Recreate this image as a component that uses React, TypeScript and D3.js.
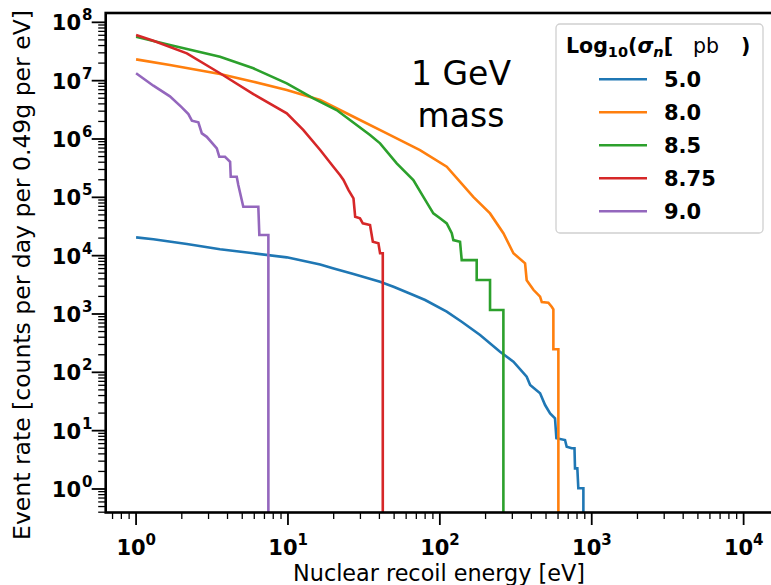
import React from "react";
import * as d3 from "d3";

type Pt = [number, number];

const seriesLabels = ["5.0", "8.0", "8.5", "8.75", "9.0"];
const seriesColors = ["#1f77b4", "#ff7f0e", "#2ca02c", "#d62728", "#9467bd"];

const sigma50: Pt[] = [
  [1.0, 20600], [1.3, 19060], [2.16, 15850], [3.57, 12850], [5.92, 10970], [9.82, 9360],
  [16.3, 7050], [20, 6020], [27, 4845], [40.4, 3573], [50, 2900], [66.9, 2115], [80, 1737],
  [111, 1095], [140, 728], [184, 437], [249, 226],
  [305, 152], [373, 84], [393, 60.6], [457, 43.7], [493, 27.5], [532, 19.8], [573, 16.3],
  [585, 7.4], [667, 6.9], [684, 5.3], [738, 5.0], [770, 5.0], [776, 2.26], [804, 2.26],
  [816, 1.03], [881, 1.03], [881, 0.01],
];
const sigma80: Pt[] = [
  [1.0, 2.32e7], [1.67, 1.85e7], [3.57, 1.3e7], [5.92, 9.58e6], [9.82, 6.9e6], [16.3, 4.65e6],
  [27, 2.41e6], [44.7, 1.25e6], [74, 6.47e5], [111, 3.35e5], [166, 1.02e5], [214, 5.3e4],
  [262, 2.42e4], [305, 1.1e4], [364, 7.4e3], [373, 3.8e3], [413, 2.6e3], [457, 1.98e3],
  [469, 1.6e3], [518, 1.56e3], [545, 1.33e3], [559, 1.2e3], [559, 248], [603, 248], [603, 0.01],
];
const sigma85: Pt[] = [
  [1.0, 5.66e7], [1.67, 4.08e7], [3.57, 2.57e7], [5.92, 1.63e7], [9.82, 9.0e6], [14.7, 4.98e6],
  [20.9, 3.14e6], [34.7, 1.17e6], [40.4, 8.43e5], [52, 3.83e5], [66.9, 1.98e5], [77.9, 1.02e5],
  [90.6, 5.32e4], [100.3, 4.37e4], [111, 3.58e4], [119.8, 2.42e4], [122.7, 1.85e4],
  [135.8, 1.73e4], [139.3, 8.4e3], [174.8, 8.4e3], [174.8, 3.82e3], [214, 3.82e3],
  [214, 1.17e3], [262, 1.17e3], [262, 0.01],
];
const sigma875: Pt[] = [
  [1.0, 6.05e7], [1.3, 4.84e7], [2.16, 2.94e7], [3.57, 1.34e7], [5.92, 5.9e6], [9.82, 2.75e6],
  [12.6, 1.43e6], [16.3, 6.47e5], [19.9, 3.35e5], [22, 2.41e5], [23.2, 1.98e5], [25, 1.34e5],
  [27, 9.6e4], [27.7, 4.65e4], [29.8, 4.37e4], [31.1, 3.58e4], [34.7, 3.35e4], [36.2, 1.73e4],
  [39.4, 1.63e4], [40.4, 1.1e4], [42.1, 1.1e4], [42.1, 0.01],
];
const sigma90: Pt[] = [
  [1.0, 1.34e7], [1.3, 8.2e6], [1.67, 5.39e6], [2.0, 3.49e6], [2.21, 2.68e6], [2.33, 2.06e6],
  [2.57, 1.93e6], [2.71, 1.25e6], [2.92, 1.09e6], [3.4, 6.92e5], [3.53, 4.97e5], [3.85, 4.97e5],
  [4.16, 4.07e5], [4.2, 2.25e5], [4.6, 2.25e5], [4.71, 1.63e5], [5.08, 6.9e4], [6.38, 6.9e4],
  [6.48, 2.26e4], [7.43, 2.26e4], [7.43, 0.01],
];
const allSeries = [sigma50, sigma80, sigma85, sigma875, sigma90];

const xMajorTicks = [0, 1, 2, 3, 4];
const yMajorTicks = [0, 1, 2, 3, 4, 5, 6, 7, 8];
const xDomainLog: [number, number] = [-0.2, 4.2];
const yDomainLog: [number, number] = [-0.403, 8.16];

const W = 771;
const H = 585;
const L = 105.7, R = 774, T = 13, B = 512.5;

export default function App() {
  const x = d3.scaleLog().domain([10 ** xDomainLog[0], 10 ** xDomainLog[1]]).range([L, R]);
  const y = d3.scaleLog().domain([10 ** yDomainLog[0], 10 ** yDomainLog[1]]).range([B, T]);
  const line = d3.line<Pt>().x((d) => x(d[0])).y((d) => y(Math.max(d[1], 1e-3)));

  const minor = (dom: [number, number]) => {
    const out: number[] = [];
    for (let e = Math.floor(dom[0]); e <= Math.ceil(dom[1]); e++) {
      for (let m = 2; m <= 9; m++) {
        const v = Math.log10(m) + e;
        if (v >= dom[0] && v <= dom[1]) out.push(10 ** v);
      }
    }
    return out;
  };
  const xMinor = minor(xDomainLog);
  const yMinor = minor(yDomainLog);
  const font = "'DejaVu Sans', sans-serif";

  return (
    <svg width={W} height={H} style={{ position: "absolute", left: 0, top: 0 }} fontFamily={font}>
      <rect x={0} y={0} width={W} height={H} fill="#fff" />
      <defs>
        <clipPath id="plotclip">
          <rect x={L} y={T} width={R - L} height={B - T} />
        </clipPath>
      </defs>
      <g clipPath="url(#plotclip)">
        {allSeries.map((s, i) => (
          <path key={i} d={line(s) || ""} fill="none" stroke={seriesColors[i]} strokeWidth={2.6} strokeLinejoin="miter" strokeLinecap="butt" />
        ))}
      </g>
      {xMinor.map((v, i) => (
        <line key={"xm" + i} x1={x(v)} x2={x(v)} y1={B} y2={B + 6.5} stroke="#000" strokeWidth={1.3} />
      ))}
      {xMajorTicks.map((e) => (
        <g key={"xM" + e}>
          <line x1={x(10 ** e)} x2={x(10 ** e)} y1={B} y2={B + 12.5} stroke="#000" strokeWidth={1.8} />
          <text x={x(10 ** e) - 5} y={555} textAnchor="middle" fontWeight="bold" fontSize={21}>10</text>
          <text x={x(10 ** e) + 9.5} y={545} textAnchor="start" fontWeight="bold" fontSize={15}>{e}</text>
        </g>
      ))}
      {yMinor.map((v, i) => (
        <line key={"ym" + i} x1={L} x2={L - 7.5} y1={y(v)} y2={y(v)} stroke="#000" strokeWidth={1.3} />
      ))}
      {yMajorTicks.map((e) => (
        <g key={"yM" + e}>
          <line x1={L} x2={L - 14} y1={y(10 ** e)} y2={y(10 ** e)} stroke="#000" strokeWidth={1.8} />
          <text x={81} y={y(10 ** e) + 8} textAnchor="end" fontWeight="bold" fontSize={21}>10</text>
          <text x={82} y={y(10 ** e) - 2} textAnchor="start" fontWeight="bold" fontSize={15}>{e}</text>
        </g>
      ))}
      <rect x={L} y={T} width={R - L} height={B - T} fill="none" stroke="#000" strokeWidth={2.6} />
      <text x={461} y={85} textAnchor="middle" fontSize={33}>1 GeV</text>
      <text x={461} y={127} textAnchor="middle" fontSize={33}>mass</text>
      <rect x={556} y={24} width={207} height={209} rx={4} fill="#fff" stroke="#d0d0d0" strokeWidth={1.3} />
      <text x={566} y={53} fontSize={20.5} fontWeight="bold">
        Log<tspan fontSize={14.5} dy={4}>10</tspan><tspan dy={-4}>(</tspan>
        <tspan fontStyle="italic">σ</tspan><tspan fontStyle="italic" fontSize={14.5} dy={4}>n</tspan>
        <tspan dy={-4}>[</tspan>
        <tspan fontWeight="normal" dx={20}>pb</tspan>
        <tspan dx={22}>)</tspan>
      </text>
      {seriesLabels.map((lab, i) => {
        const ry = 79.3 + i * 33;
        return (
          <g key={lab}>
            <line x1={599} x2={647} y1={ry} y2={ry} stroke={seriesColors[i]} strokeWidth={2.6} />
            <text x={664} y={ry + 8} fontSize={21} fontWeight="bold">{lab}</text>
          </g>
        );
      })}
      <text x={439} y={581} textAnchor="middle" fontSize={22.3}>Nuclear recoil energy [eV]</text>
      <text transform={`translate(30,275) rotate(-90)`} textAnchor="middle" fontSize={23.5}>
        Event rate [counts per day per 0.49g per eV]
      </text>
    </svg>
  );
}
